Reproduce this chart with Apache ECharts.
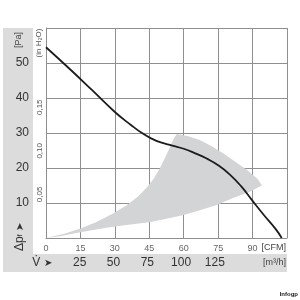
<!DOCTYPE html>
<html><head><meta charset="utf-8">
<script src="https://cdn.jsdelivr.net/npm/echarts@6/dist/echarts.min.js"></script>
<style>html,body{margin:0;padding:0;background:#fff}#c{width:300px;height:300px}</style>
</head><body><div id="c"></div>
<script>
// Fan curve: [CFM, Pa]
const curveCFM = [0, 10, 20, 30, 37, 42, 46, 50, 55, 60, 65, 70, 75, 80, 85, 90, 95, 100, 102.7];
const curvePa  = [54.5, 48.5, 42.3, 36.0, 32.3, 29.9, 28.4, 27.3, 26.4, 25.5, 24.2, 22.7, 20.8, 18.2, 14.8, 10.6, 6.5, 2.6, 0];
// Grey operating region outline: [CFM, Pa]
const regionCFM = [0, 6, 12, 20, 27, 35, 45, 52, 60, 67, 74.4, 81.5, 88.9, 94.1, 92, 87.6, 82, 77, 72, 67, 62, 57, 55.5, 53.5, 51.5, 49.5, 47, 44, 40, 35, 29, 22, 15, 8];
const regionPa  = [0, 0.5, 1.3, 2.2, 3.0, 3.7, 4.5, 5.4, 6.6, 7.9, 9.4, 11.4, 13.2, 15.1, 17, 19.4, 22, 24.3, 26.3, 28, 29.1, 29.7, 28.2, 25.2, 22.4, 19.8, 17.0, 14.5, 11.8, 9.3, 6.9, 4.6, 2.7, 1.2];
// Axis ticks
const cfmTicks = [0, 15, 30, 45, 60, 75, 90];
const paTicks = [10, 20, 30, 40, 50];
const inH2OTicks = [0.05, 0.10, 0.15];
const m3hTicks = [25, 50, 75, 100, 125];

const PA_PER_INH2O = 249.089;
const M3H_PER_CFM = 1.69901;
const X_MAX = 105, Y_MAX = 60;

const chart = echarts.init(document.getElementById('c'));
const curve = curveCFM.map((x, i) => [x, curvePa[i]]);
const region = regionCFM.map((x, i) => [x, regionPa[i]]);
const font = 'Liberation Sans, Arial, sans-serif';
const gridColor = '#8f8f8f';

chart.setOption({
  animation: false,
  grid: { left: 46, top: 28, right: 13, bottom: 62 },
  xAxis: [{
    type: 'value', min: 0, max: X_MAX, interval: 15,
    axisLine: { show: true, lineStyle: { color: gridColor, width: 1 } },
    axisTick: { show: false },
    splitLine: { show: true, lineStyle: { color: gridColor, width: 1 } },
    axisLabel: { color: '#666', fontSize: 9, fontFamily: font, margin: 6,
      formatter: v => cfmTicks.includes(v) ? String(v) : '' }
  }, {
    type: 'value', position: 'bottom', min: 0, max: X_MAX * M3H_PER_CFM, interval: 25,
    axisLine: { show: false }, axisTick: { show: false }, splitLine: { show: false },
    axisLabel: { color: '#333', fontSize: 12, fontFamily: font, margin: 19, showMaxLabel: false,
      formatter: v => m3hTicks.includes(v) ? String(v) : '' }
  }],
  yAxis: [{
    type: 'value', min: 0, max: Y_MAX, interval: 10,
    axisLine: { show: true, lineStyle: { color: gridColor, width: 1 } },
    axisTick: { show: false },
    splitLine: { show: true, lineStyle: { color: gridColor, width: 1 } },
    axisLabel: { color: '#333', fontSize: 12, fontFamily: font, margin: 17,
      formatter: v => paTicks.includes(v) ? String(v) : '' }
  }, {
    type: 'value', position: 'left', min: 0, max: Y_MAX / PA_PER_INH2O, interval: 0.05,
    axisLine: { show: false }, axisTick: { show: false }, splitLine: { show: false },
    axisLabel: { color: '#555', fontSize: 8, fontFamily: font, margin: 2, rotate: 90, showMaxLabel: false,
      formatter: v => inH2OTicks.some(t => Math.abs(t - v) < 1e-6) ? v.toFixed(2).replace('.', ',') : '' }
  }],
  graphic: [
    { type: 'rect', z: -10, shape: { x: 3, y: 28, width: 30, height: 244 }, style: { fill: '#dcdcdc' } },
    { type: 'rect', z: -10, shape: { x: 3, y: 254, width: 284, height: 18 }, style: { fill: '#dcdcdc' } },
    { type: 'text', x: 19, y: 40, rotation: Math.PI / 2, style: { text: '[Pa]', fill: '#444', font: '9px ' + font, align: 'center', verticalAlign: 'middle' } },
    { type: 'text', x: 39, y: 43, rotation: Math.PI / 2, style: { text: '(in H₂O)', fill: '#555', font: '8px ' + font, align: 'center', verticalAlign: 'middle' } },
    { type: 'text', x: 20, y: 237, rotation: Math.PI / 2, style: {
        text: '{a|Δp}{b|f} {c|➤}', align: 'center', verticalAlign: 'middle',
        rich: { a: { fontSize: 12, fill: '#333', fontFamily: font }, b: { fontSize: 7, fill: '#333', fontFamily: font }, c: { fontSize: 10, fill: '#333' } } } },
    { type: 'text', x: 42, y: 263, style: {
        text: '{a|V̇} {c|➤}', align: 'center', verticalAlign: 'middle',
        rich: { a: { fontSize: 12, fill: '#333', fontFamily: font }, c: { fontSize: 10, fill: '#333' } } } },
    { type: 'text', x: 286, y: 248, style: { text: '[CFM]', fill: '#444', font: '9px ' + font, align: 'right', verticalAlign: 'middle' } },
    { type: 'text', x: 286, y: 263, style: { text: '[m³/h]', fill: '#444', font: '9px ' + font, align: 'right', verticalAlign: 'middle' } },
    { type: 'text', x: 298, y: 294, style: { text: 'Infogp', fill: '#222', font: 'bold 6px ' + font, align: 'right', verticalAlign: 'middle' } }
  ],
  series: [{
    type: 'custom', z: 1, silent: true,
    data: [0],
    renderItem: (params, api) => ({
      type: 'polygon',
      shape: { points: region.map(p => api.coord(p)) },
      style: { fill: '#d3d4d6' }
    })
  }, {
    type: 'line', z: 3, smooth: 0.5, showSymbol: false, silent: true,
    data: curve,
    lineStyle: { color: '#1c1c1c', width: 1.8 }
  }]
});
</script></body></html>
